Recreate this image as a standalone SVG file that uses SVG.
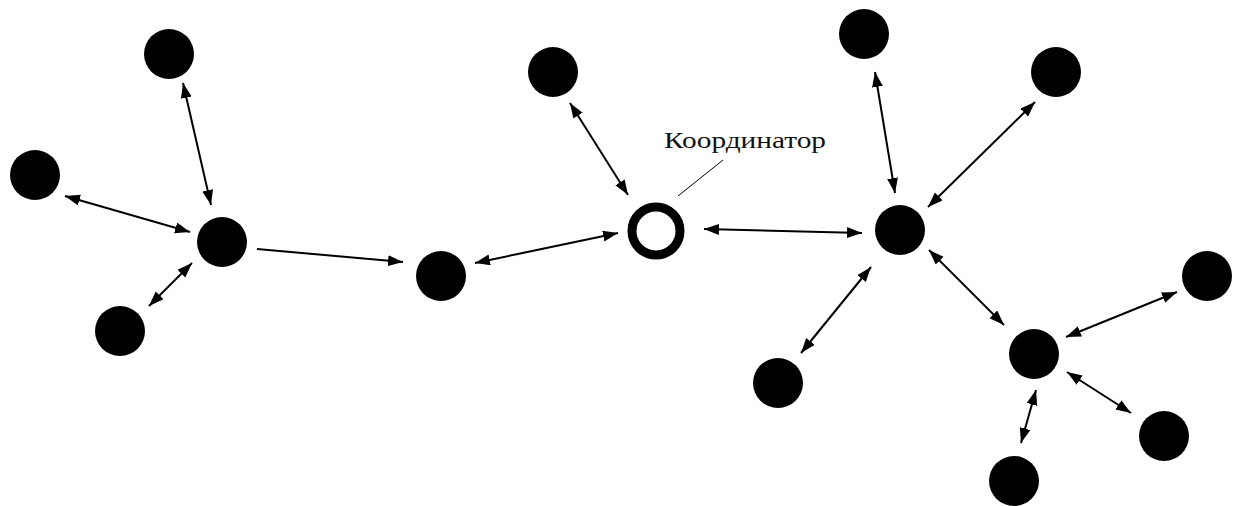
<svg xmlns="http://www.w3.org/2000/svg" width="1233" height="506" viewBox="0 0 1233 506">
<style>
.node{fill:#000}
.coord{fill:#fff;stroke:#000;stroke-width:9}
.link{stroke:#000;stroke-width:2;fill:none}
.bi{marker-start:url(#ah);marker-end:url(#ah)}
.uni{marker-end:url(#ah)}
.leader{stroke:#000;stroke-width:1;fill:none}
.label{font-family:"Liberation Serif","Times New Roman",serif;font-size:24px;fill:#111}
</style>
<defs>
<marker id="ah" markerUnits="userSpaceOnUse" markerWidth="16" markerHeight="12" refX="15" refY="5.5" orient="auto-start-reverse">
<path d="M0,0 L15,5.5 L0,11 z" fill="#000"/>
</marker>
</defs>
<rect width="1233" height="506" fill="#fff"/>
<g id="connectors">
<line class="link bi" x1="183" y1="83" x2="211" y2="205"/>
<line class="link bi" x1="65" y1="196" x2="190" y2="232"/>
<line class="link bi" x1="149" y1="306" x2="192" y2="263"/>
<line class="link uni" x1="257" y1="249" x2="403" y2="262"/>
<line class="link bi" x1="475" y1="263" x2="618" y2="233"/>
<line class="link bi" x1="570" y1="103" x2="628" y2="195"/>
<line class="link bi" x1="704" y1="229" x2="862" y2="233"/>
<line class="link bi" x1="875" y1="72" x2="895" y2="193"/>
<line class="link bi" x1="1035" y1="102" x2="928" y2="207"/>
<line class="link bi" x1="801" y1="353" x2="871" y2="267"/>
<line class="link bi" x1="929" y1="250" x2="1004" y2="325"/>
<line class="link bi" x1="1177" y1="292" x2="1066" y2="337"/>
<line class="link bi" x1="1067" y1="372" x2="1131" y2="413"/>
<line class="link bi" x1="1036" y1="390" x2="1021" y2="443"/>
<line class="leader" x1="678" y1="196" x2="723" y2="160"/>
</g>
<g id="nodeA"><circle class="node" cx="169" cy="54" r="25"/></g>
<g id="nodeB"><circle class="node" cx="35" cy="175" r="25"/></g>
<g id="nodeC"><circle class="node" cx="222" cy="242" r="25"/></g>
<g id="nodeD"><circle class="node" cx="120" cy="331" r="25"/></g>
<g id="nodeE"><circle class="node" cx="441" cy="276" r="25"/></g>
<g id="nodeF"><circle class="node" cx="553" cy="72" r="25"/></g>
<g id="coordinator"><circle class="coord" cx="656" cy="231" r="24"/><text class="label" x="664" y="148" textLength="162" lengthAdjust="spacingAndGlyphs">Координатор</text></g>
<g id="nodeG"><circle class="node" cx="864" cy="34" r="25"/></g>
<g id="nodeH"><circle class="node" cx="1056" cy="72" r="25"/></g>
<g id="nodeI"><circle class="node" cx="900" cy="230" r="25"/></g>
<g id="nodeJ"><circle class="node" cx="778" cy="383" r="25"/></g>
<g id="nodeK"><circle class="node" cx="1034" cy="354" r="25"/></g>
<g id="nodeL"><circle class="node" cx="1207" cy="276" r="25"/></g>
<g id="nodeM"><circle class="node" cx="1164" cy="436" r="25"/></g>
<g id="nodeN"><circle class="node" cx="1014" cy="481" r="25"/></g>
</svg>
